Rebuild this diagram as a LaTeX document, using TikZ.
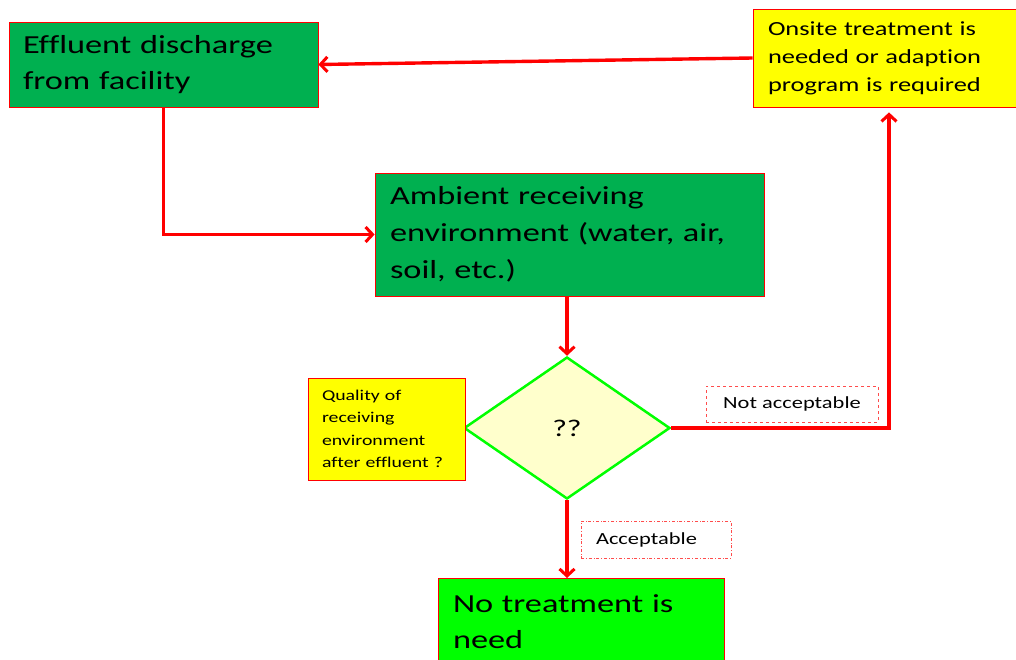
\documentclass[tikz,border=0pt]{standalone}
\usepackage{fontspec}
\setmainfont{Carlito}[FakeStretch=1.32, Ligatures=NoCommon]
\usetikzlibrary{shapes.geometric,arrows.meta}
\definecolor{boxgreen}{RGB}{0,176,80}
\definecolor{limegreen}{RGB}{0,255,0}
\definecolor{boxyellow}{RGB}{255,255,0}
\definecolor{paleyellow}{RGB}{255,255,204}
\begin{document}
\begin{tikzpicture}[x=1pt,y=-1pt,
        box/.style = {shape=rectangle, draw=red, line width=0.8pt,
            align=left, inner ysep=0pt},
        bigtext/.style = {font=\fontsize{26}{36}\selectfont},
        tag/.style = {shape=rectangle, draw=red!70, line width=0.6pt,
            font=\fontsize{17}{20}\selectfont, inner sep=0pt},
        flow/.style = {draw=red, line width=3.4pt,
            -{Straight Barb[length=7pt,width=15pt,line width=3pt]}}]
    \clip (0,0) rectangle (1016,660);
    \node[box, bigtext, fill=boxgreen, inner xsep=14pt, text width=281pt,
        minimum height=85pt] (effluent) at (163.5,64.5)
        {Effluent discharge\\from facility};
    \node[box, fill=boxyellow, inner xsep=15pt, text width=233pt,
        minimum height=98pt, font=\fontsize{20}{28}\selectfont] (onsite) at (884.5,58)
        {Onsite treatment is\\needed or adaption\\program is required};
    \node[box, bigtext, fill=boxgreen, inner xsep=15pt, text width=359pt,
        minimum height=123pt, font=\fontsize{26}{37}\selectfont] (ambient) at (569.5,234.5)
        {Ambient receiving\\environment (water, air,\\soil, etc.)};
    \node[shape=diamond, draw=limegreen, line width=2.5pt, fill=paleyellow,
        inner sep=0pt, minimum width=206pt, minimum height=142pt,
        font=\fontsize{24}{28}\selectfont] (decision) at (567,428) {??};
    \node[box, fill=boxyellow, inner xsep=14pt, text width=129pt,
        minimum height=102pt, font=\fontsize{15}{22.5}\selectfont] (quality) at (386.5,429)
        {Quality of\\receiving\\environment\\after effluent ?};
    \node[box, bigtext, fill=limegreen, inner xsep=15pt, inner ysep=16pt,
        text width=256pt, anchor=north] (notreat) at (581,578)
        {No treatment is\\need};
    \node[tag, dashed, minimum width=172pt, minimum height=36pt] (notacc)
        at (792,404) {Not acceptable};
    \node[tag, dash dot, minimum width=150pt, minimum height=37pt, align=left,
        text width=120pt, inner xsep=15pt] (acc) at (656,539.5) {Acceptable};
    % connectors
    \draw[flow] (onsite.west) -- (effluent.east);
    \draw[flow] (effluent.south) |- (ambient.west);
    \draw[flow] (ambient.south -| decision.north) -- (decision.north);
    \draw[flow] (decision.east) -| ([xshift=4.5pt,yshift=-5pt]onsite.south);
    \draw[flow] (decision.south) -- (notreat.north -| decision.south);
\end{tikzpicture}
\end{document}
